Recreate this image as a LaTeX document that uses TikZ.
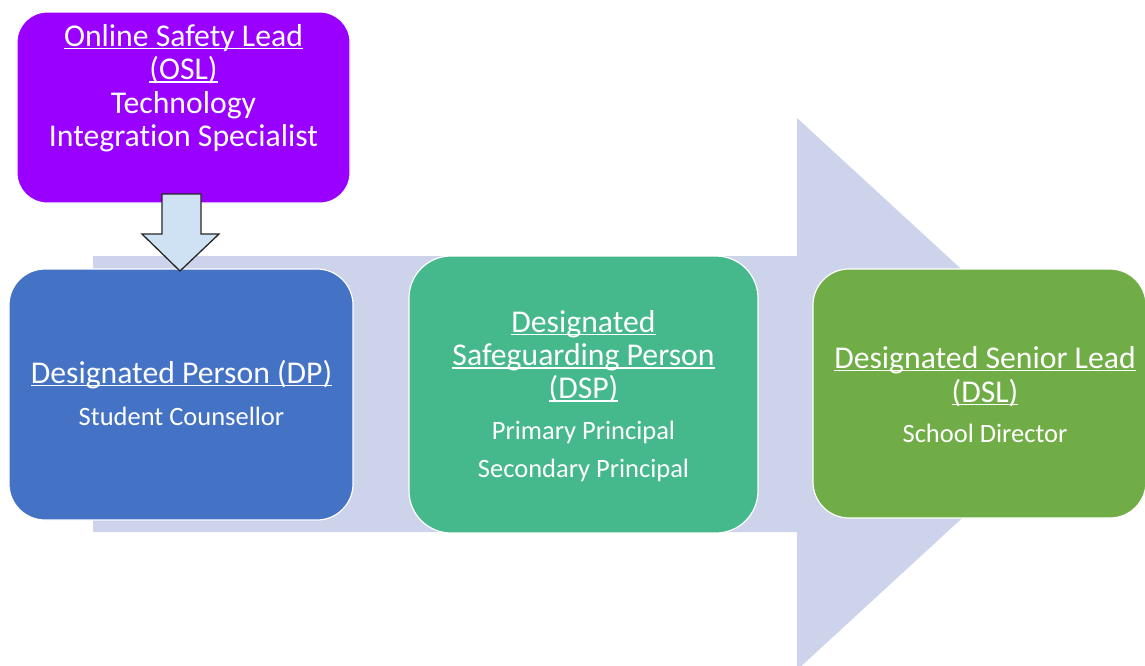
\documentclass[tikz,border=0pt]{standalone}
\usepackage{fontspec}
\setmainfont{Carlito}[Ligatures=NoCommon]
\definecolor{bandcol}{HTML}{CDD3EA}
\definecolor{oslcol}{HTML}{9900FF}
\definecolor{dpcol}{HTML}{4472C4}
\definecolor{dspcol}{HTML}{45B88C}
\definecolor{dslcol}{HTML}{70AD47}
\definecolor{downcol}{HTML}{CFE2F3}
% white underline drawn just below the baseline
\newcommand\ulx[1]{\setbox0=\hbox{#1}\rlap{\rule[-3.3pt]{\wd0}{1.5pt}}\box0}
\begin{document}
\begin{tikzpicture}[x=1pt,y=-1pt,
  card/.style={draw=white, line width=1.2pt, inner sep=0pt},
  ttl/.style={text=white, inner sep=0pt, anchor=base, font=\fontsize{31.7}{34}\selectfont},
  sub/.style={text=white, inner sep=0pt, anchor=base, font=\fontsize{26.5}{30}\selectfont}]
\useasboundingbox (0,0) rectangle (1145,665);
\clip (0,0) rectangle (1145,665);

% broad background arrow
\fill[bandcol] (93,256) -- (797,256) -- (797,118) -- (1097,394) -- (797,670)
  -- (797,532) -- (93,532) -- cycle;

% role cards
\node[card, fill=oslcol, rounded corners=30pt, minimum width=333pt, minimum height=191pt]
  (osl) at (183.5,107.5) {};
\node[card, fill=dpcol, rounded corners=36pt, minimum width=344pt, minimum height=251pt]
  (dp) at (181,394.5) {};
\node[card, fill=dspcol, rounded corners=42pt, minimum width=349pt, minimum height=277pt]
  (dsp) at (583.5,394.5) {};
\node[card, fill=dslcol, rounded corners=36pt, minimum width=333pt, minimum height=249pt]
  (dsl) at (979.5,393.5) {};

% Online Safety Lead
\node[ttl] (osl1) at (183.5,46) {\ulx{Online Safety Lead}};
\node[ttl] (osl2) at (183.5,79.5) {\ulx{(OSL)}};
\node[ttl] (osl3) at (183.5,113) {Technology};
\node[ttl] (osl4) at (183.5,146.5) {Integration Specialist};

% Designated Person
\node[ttl] (dp1) at (181.5,383) {\ulx{Designated Person (DP)}};
\node[sub] (dp2) at (181.5,425) {Student Counsellor};

% Designated Safeguarding Person
\node[ttl] (dsp1) at (583.5,332) {\ulx{Designated}};
\node[ttl] (dsp2) at (583.5,365.5) {\ulx{Safeguarding Person}};
\node[ttl] (dsp3) at (583.5,398.5) {\ulx{(DSP)}};
\node[sub] (dsp4) at (583.5,439) {Primary Principal};
\node[sub] (dsp5) at (583.5,477) {Secondary Principal};

% Designated Senior Lead
\node[ttl] (dsl1) at (985,368) {\ulx{Designated Senior Lead}};
\node[ttl] (dsl2) at (985,402) {\ulx{(DSL)}};
\node[sub] (dsl3) at (985,442) {School Director};

% block arrow from the OSL card down to the DP card
\draw[fill=downcol, draw=black!85, line width=1.3pt, line join=miter]
  (162,194) -- (201,194) -- (201,234) -- (219,234) -- (180,271)
  -- (142,234) -- (162,234) -- cycle;
\end{tikzpicture}
\end{document}
